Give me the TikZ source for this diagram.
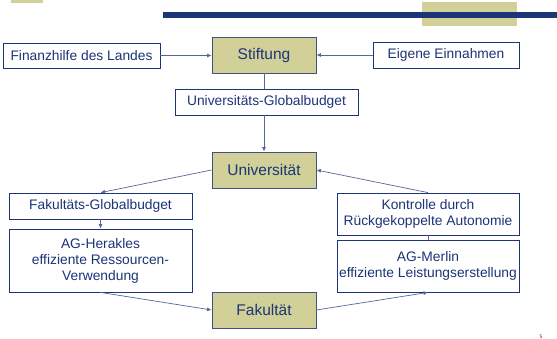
\documentclass[tikz,border=0pt]{standalone}
\usepackage{fontspec}
\setmainfont{Liberation Sans}
\usetikzlibrary{arrows.meta}
\definecolor{navy}{RGB}{28,52,120}
\definecolor{sand}{RGB}{208,208,152}

\begin{document}
\begin{tikzpicture}[x=1pt, y=-1pt,
    box/.style={draw=navy, line width=0.8pt, fill=white, text=navy, inner sep=0pt,
      font=\fontsize{13.8}{16}\selectfont, align=center},
    keybox/.style={box, draw=navy!60!gray, fill=sand, minimum width=104pt, minimum height=36pt,
      font=\fontsize{15.5}{18}\selectfont},
    link/.style={draw=navy!75!white, line width=0.7pt},
    flow/.style={link, -{Latex[length=4.5pt, width=4pt]}}]
  \useasboundingbox (0,0) rectangle (557,339);

  % Header
  \fill[sand] (11,0) rectangle (43,3);
  \fill[sand] (422,2) rectangle (517,26);
  \fill[navy] (163,12) rectangle (557,18);

  % Boxes
  \node[keybox] (stift) at (264,55) {Stiftung};
  \node[box, minimum width=157pt, minimum height=25pt] (fin) at (81.5,55.5) {Finanzhilfe des Landes};
  \node[box, minimum width=146pt, minimum height=26pt] (eigen) at (446,55) {Eigene Einnahmen};
  \node[box, minimum width=183pt, minimum height=26pt] (budget) at (266.5,102) {Universitäts-Globalbudget};
  \node[keybox] (uni) at (264,170) {Universität};
  \node[box, minimum width=183pt, minimum height=26pt] (fakgb) at (100.5,206) {Fakultäts-Globalbudget};
  \node[box, minimum width=183pt, minimum height=63pt] (herakles) at (100.5,260.5)
    {AG-Herakles\\effiziente Ressourcen-\\Verwendung};
  \node[keybox] (fak) at (264,310) {Fakultät};
  \node[box, minimum width=182pt, minimum height=42pt] (kontrolle) at (428,214)
    {Kontrolle durch\\Rückgekoppelte Autonomie};
  \node[box, minimum width=182pt, minimum height=52pt] (merlin) at (428,266)
    {AG-Merlin\\effiziente Leistungserstellung};

  % Arrows
  \draw[flow] (fin.east) -- (stift.west |- fin.east);
  \draw[flow] (eigen.west) -- (stift.east |- eigen.west);
  \draw[link] (stift.south) -- (stift.south |- budget.north);
  \draw[flow] (uni.north |- budget.south) -- (uni.north);
  \draw[flow] (uni.west) -- (fakgb.north);
  \draw[flow] (fakgb.south) -- (herakles.north);
  \draw[flow] (herakles.south) -- (fak.west);
  \draw[flow] (fak.east) -- (merlin.south);
  \draw[link] (merlin.north) -- (kontrolle.south);
  \draw[flow] (kontrolle.north) -- (uni.east);

  % Page number
  \node[text=red!70!black, font=\tiny, inner sep=0pt] (page) at (541,337) {5};
\end{tikzpicture}
\end{document}
